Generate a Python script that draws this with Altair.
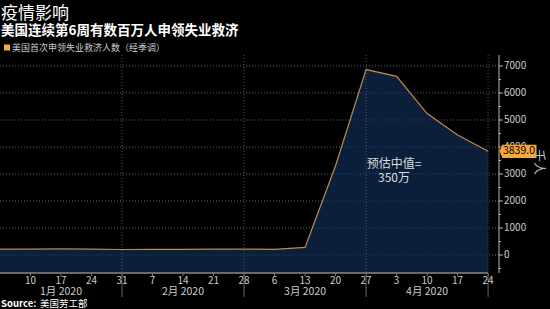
import altair as alt
import pandas as pd

dates = ["2020-01-03", "2020-01-10", "2020-01-17", "2020-01-24", "2020-01-31",
         "2020-02-07", "2020-02-14", "2020-02-21", "2020-02-28", "2020-03-06",
         "2020-03-13", "2020-03-20", "2020-03-27", "2020-04-03", "2020-04-10",
         "2020-04-17", "2020-04-24"]
claims = [217, 214, 223, 216, 203, 205, 210, 219, 217, 211, 282, 3307, 6867,
          6615, 5237, 4442, 3839]

tick_dates = dates[1:]
tick_labels = ["10", "17", "24", "31", "7", "14", "21", "28", "6", "13", "20",
               "27", "3", "10", "17", "24"]
grid_dates = ["2020-01-31", "2020-02-28", "2020-03-27", "2020-04-24"]
month_label_dates = ["2020-01-17", "2020-02-14", "2020-03-13", "2020-04-10"]
month_labels = ["1月 2020", "2月 2020", "3月 2020", "4月 2020"]
y_ticks = [0, 1000, 2000, 3000, 4000, 5000, 6000, 7000]
y_tick_labels = ["0", "1000", "2000", "3000", "4000", "5000", "6000", "7000"]
y_minor = [-500, 500, 1500, 2500, 3500, 4500, 5500, 6500]

last_value = claims[-1]

FONT = "Noto Sans CJK SC"
W, H = 499, 218
AX = "#bbbbbb"
LBL = "#cccccc"

df = pd.DataFrame({"date": dates, "claims": claims})


def dt(d, hours=0):
    return alt.DateTime(year=int(d[:4]), month=int(d[5:7]), date=int(d[8:]),
                        hours=hours, utc=True)


x_scale = alt.Scale(type="utc", domain=[dt("2020-01-03"), dt("2020-04-26", 12)])
y_scale = alt.Scale(domain=[-667, 7407], nice=False, zero=False)


def X(field):
    return alt.X(field, type="temporal", scale=x_scale, axis=None)


def Y(field):
    return alt.Y(field, type="quantitative", scale=y_scale, axis=None, stack=None)


# horizontal dotted gridlines
ydf = pd.DataFrame({"v": y_ticks, "t": y_tick_labels})
hgrid = alt.Chart(ydf).mark_rule(color="#4a4a4a", strokeDash=[1, 2], strokeWidth=1).encode(
    y=Y("v"), x=alt.value(0), x2=alt.value(W))

area = alt.Chart(df).mark_area(color="#0b1f3b", opacity=1).encode(
    x=X("date"), y=Y("claims"), y2=alt.value(H))

hgrid_over = alt.Chart(ydf).mark_rule(color="#3a4a62", strokeDash=[1, 2], strokeWidth=1,
                                      opacity=0.8).encode(
    y=Y("v"), x=alt.value(0), x2=alt.value(W))

line = alt.Chart(df).mark_line(color="#c08a48", strokeWidth=1.2).encode(
    x=X("date"), y=Y("claims"))

grid_df = pd.DataFrame({"date": grid_dates})
vgrid = alt.Chart(grid_df).mark_rule(color="#555", strokeDash=[1, 2], strokeWidth=1).encode(
    x=X("date"), y=alt.value(0), y2=alt.value(H))
sep = alt.Chart(grid_df).mark_rule(color="#666", strokeWidth=1).encode(
    x=X("date"), y=alt.value(H + 2), y2=alt.value(H + 24))

# x axis line, ticks, labels
xline = alt.Chart(pd.DataFrame({"a": [dates[0]], "b": [dates[-1]]})).mark_rule(
    color="#888", strokeWidth=1.5).encode(x=X("a"), x2="b:T", y=alt.value(H))
xdf = pd.DataFrame({"date": tick_dates, "t": tick_labels})
xticks = alt.Chart(xdf).mark_rule(color="#777").encode(
    x=X("date"), y=alt.value(H), y2=alt.value(H + 3))
xlabels = alt.Chart(xdf).mark_text(color=LBL, font=FONT, fontSize=10, align="center",
                                   baseline="middle").encode(
    x=X("date"), y=alt.value(H + 8), text="t:N")

months = alt.Chart(pd.DataFrame({"date": month_label_dates, "label": month_labels})).mark_text(
    color=LBL, font=FONT, fontSize=10.5, baseline="middle", align="center").encode(
    x=X("date"), y=alt.value(H + 18.5), text="label:N")

# y axis (right)
ydomain = alt.Chart(pd.DataFrame({"a": [0]})).mark_rule(color=AX).encode(
    x=alt.value(W), y=alt.value(0), y2=alt.value(H))
yticks = alt.Chart(ydf).mark_rule(color=AX).encode(
    y=Y("v"), x=alt.value(W), x2=alt.value(W + 4))
minor = alt.Chart(pd.DataFrame({"v": y_minor})).mark_rule(color=AX).encode(
    y=Y("v"), x=alt.value(W), x2=alt.value(W + 2))
ylabels = alt.Chart(ydf).mark_text(color=LBL, font=FONT, fontSize=10, align="left",
                                   baseline="middle").encode(
    y=Y("v"), x=alt.value(W + 5), text="t:N")
ytitle = alt.Chart(pd.DataFrame({"t": ["千人"]})).mark_text(
    color=AX, font=FONT, fontSize=13, align="center", baseline="middle", angle=90).encode(
    x=alt.value(W + 40), y=alt.value(H / 2 - 2), text="t:N")

box_df = pd.DataFrame({"v": [last_value], "t": [f"{last_value:.1f}"]})
box = alt.Chart(box_df).mark_point(
    shape="M -1 0 L -0.86 -0.3 L -0.86 -0.36 L 1 -0.36 L 1 0.36 L -0.86 0.36 L -0.86 0.3 Z",
    filled=True, color="#f7a83a", opacity=1, size=1369, strokeWidth=0).encode(
    y=Y("v"), x=alt.value(W + 19))
box_text = alt.Chart(box_df).mark_text(color="#000", font=FONT, fontSize=10.5,
                                       align="center", baseline="middle").encode(
    y=Y("v"), x=alt.value(W + 20), text="t:N")

annot = alt.Chart(pd.DataFrame({"t": ["预估中值=\n350万"]})).mark_text(
    color="#dddddd", font=FONT, fontSize=12, align="center", baseline="middle",
    lineBreak="\n", lineHeight=14).encode(
    x=alt.value(394), y=alt.value(109), text="t:N")


def label(text, x, y, size, color="#ffffff", weight="normal"):
    return alt.Chart(pd.DataFrame({"t": [text]})).mark_text(
        color=color, font=FONT, fontSize=size, fontWeight=weight, align="left",
        baseline="alphabetic").encode(x=alt.value(x), y=alt.value(y), text="t:N")


title = label("疫情影响", 1, 18.5 - 55, 17)
subtitle = label("美国连续第6周有数百万人申领失业救济", 1, 35 - 55, 13.5, weight="bold")
legend_txt = label("美国首次申领失业救济人数（经季调）", 12, 51 - 55, 9, color=LBL)
legend_sq = alt.Chart(pd.DataFrame({"a": [0]})).mark_square(
    color="#f7a83a", filled=True, opacity=1, size=36).encode(
    x=alt.value(7), y=alt.value(47.5 - 55))
source = label("Source:", 1, 307 - 55, 9.5, weight="bold")
source2 = label("美国劳工部", 40, 307 - 55, 9.5)

chart = alt.layer(
    hgrid, area, hgrid_over, vgrid, line, sep, xline, xticks, xlabels, months,
    ydomain, yticks, minor, ylabels, ytitle, box, box_text, annot,
    title, subtitle, legend_txt, legend_sq, source, source2
).properties(
    width=W, height=H,
    padding={"left": 0, "top": 55, "right": 51, "bottom": 36},
    autosize=alt.AutoSizeParams(type="none"),
    background="#000000",
).configure_view(stroke=None)

chart.save("out.html", embed_options={"renderer": "svg", "actions": False})
